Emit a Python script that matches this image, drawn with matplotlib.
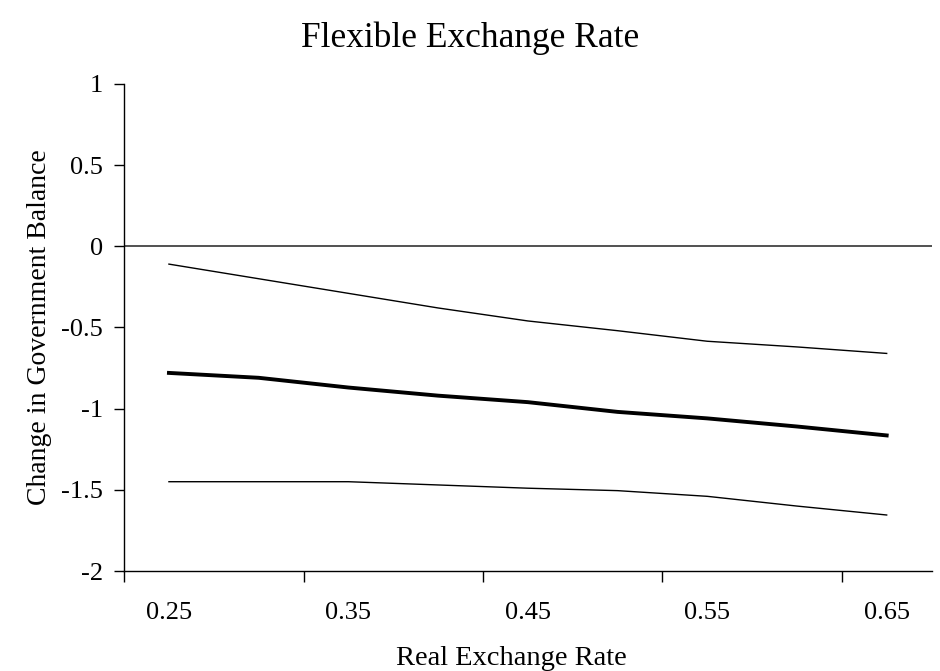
import matplotlib.pyplot as plt

# Real exchange rate categories
rer = [0.25, 0.30, 0.35, 0.40, 0.45, 0.50, 0.55, 0.60, 0.65]

# Estimated change in government balance and its bands
mid = [-0.78, -0.81, -0.87, -0.92, -0.96, -1.02, -1.06, -1.11, -1.165]
upper = [-0.11, -0.20, -0.29, -0.38, -0.46, -0.52, -0.585, -0.62, -0.66]
lower = [-1.45, -1.45, -1.45, -1.47, -1.49, -1.505, -1.54, -1.60, -1.655]

x_labels = ["0.25", "0.35", "0.45", "0.55", "0.65"]
y_ticks = [-2, -1.5, -1, -0.5, 0, 0.5, 1]

plt.rcParams['font.family'] = ['Liberation Serif', 'DejaVu Serif']

fig = plt.figure(figsize=(9.4, 6.71), dpi=100)
ax = fig.add_axes([0.132, 0.149, 0.859, 0.726])

ax.plot(rer, upper, color='black', lw=1.0)
ax.plot(rer, mid, color='black', lw=2.8)
ax.plot(rer, lower, color='black', lw=1.0)
ax.axhline(0, color='#333333', lw=1.2)

ax.set_xlim(0.225, 0.675)
ax.set_ylim(-2, 1)

# labels sit on the categories, tick marks fall between them
ax.set_xticks([float(s) for s in x_labels])
ax.set_xticklabels(x_labels)
ax.set_xticks([0.225, 0.325, 0.425, 0.525, 0.625], minor=True)
ax.tick_params(axis='x', which='major', length=0, pad=22, labelsize=19)
ax.tick_params(axis='x', which='minor', length=8, width=1, direction='out')

ax.set_yticks(y_ticks)
ax.set_yticklabels(["-2", "-1.5", "-1", "-0.5", "0", "0.5", "1"])
ax.tick_params(axis='y', length=7, width=1, direction='out', labelsize=19, pad=8)

for side in ['top', 'right']:
    ax.spines[side].set_visible(False)
for side in ['left', 'bottom']:
    ax.spines[side].set_linewidth(1)

fig.suptitle("Flexible Exchange Rate", fontsize=25.5, x=0.5, y=0.968)
ax.set_xlabel("Real Exchange Rate", fontsize=20.5, labelpad=16, x=0.48)
ax.set_ylabel("Change in Government Balance", fontsize=20, labelpad=7)

fig.savefig("out.png", dpi=100)
